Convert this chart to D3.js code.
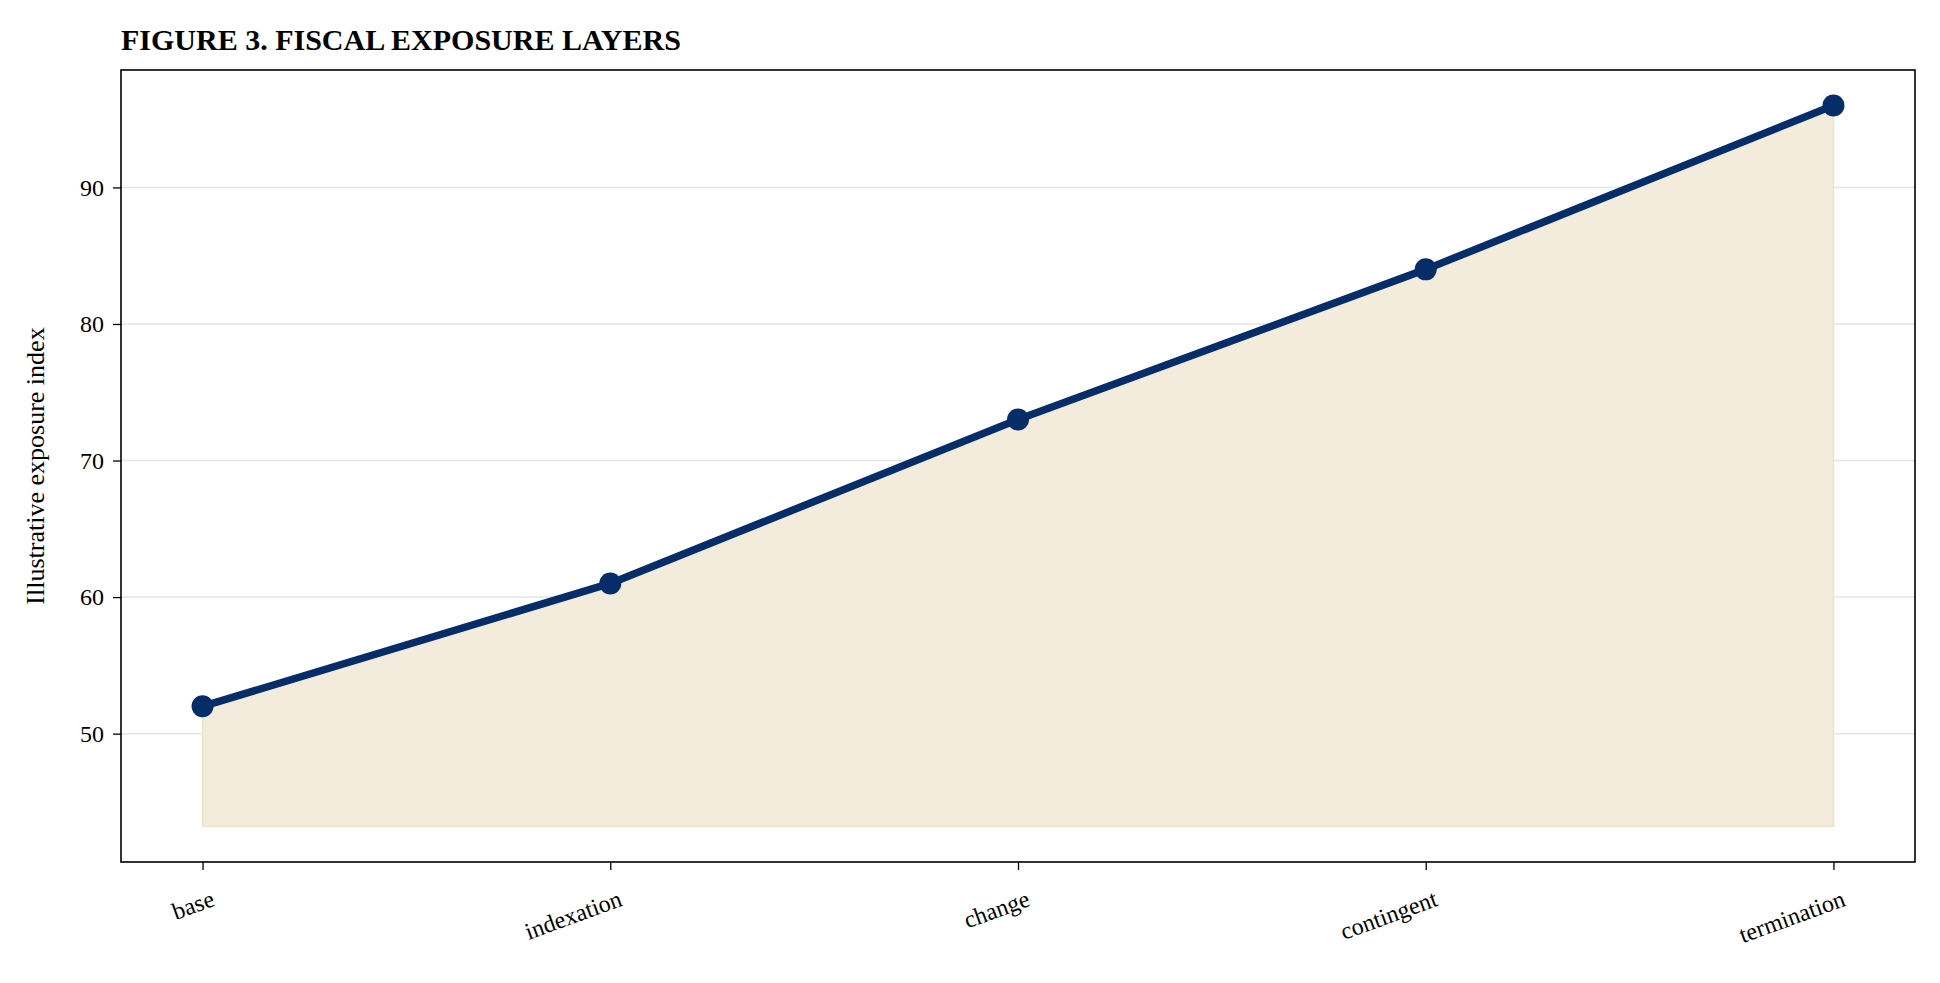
<!DOCTYPE html>
<html>
<head>
<meta charset="utf-8">
<script src="https://cdn.jsdelivr.net/npm/d3@7"></script>
<style>
  body { margin: 0; background: #fff; }
  text { font-family: "Liberation Serif", "Times New Roman", serif; }
</style>
</head>
<body>
<svg id="chart" width="1940" height="983"></svg>
<script>
const layers = ["base", "indexation", "change", "contingent", "termination"];
const exposure = [52, 61, 73, 84, 96];
const yTicks = [50, 60, 70, 80, 90];
const fillBase = 43.2;

const margin = { top: 70, right: 25, bottom: 121, left: 121 };
const width = 1940 - margin.left - margin.right;
const height = 983 - margin.top - margin.bottom;

const svg = d3.select("#chart");
const g = svg.append("g").attr("transform", `translate(${margin.left},${margin.top})`);

// matplotlib-style 5% margins
const pad = width * 0.05 / 1.1;
const x = d3.scalePoint().domain(layers).range([pad, width - pad]).padding(0);
const y = d3.scaleLinear().domain([40.6, 98.6]).range([height, 0]);

const data = layers.map((d, i) => ({ layer: d, value: exposure[i] }));

// grid
g.selectAll("line.grid").data(yTicks).enter().append("line")
  .attr("class", "grid")
  .attr("x1", 0).attr("x2", width)
  .attr("y1", d => y(d)).attr("y2", d => y(d))
  .attr("stroke", "#e6e6e6").attr("stroke-width", 1.5);

// area
g.append("path").datum(data)
  .attr("d", d3.area().x(d => x(d.layer)).y0(y(fillBase)).y1(d => y(d.value)))
  .attr("fill", "#f3ecdc").attr("stroke", "#efe3c6").attr("stroke-width", 1.5);

// line
g.append("path").datum(data)
  .attr("d", d3.line().x(d => x(d.layer)).y(d => y(d.value)))
  .attr("fill", "none").attr("stroke", "#062d67").attr("stroke-width", 7.5)
  .attr("stroke-linejoin", "round");

g.selectAll("circle").data(data).enter().append("circle")
  .attr("cx", d => x(d.layer)).attr("cy", d => y(d.value))
  .attr("r", 11).attr("fill", "#062d67");

// frame
g.append("rect").attr("width", width).attr("height", height)
  .attr("fill", "none").attr("stroke", "#000").attr("stroke-width", 1.6);

// y axis
const yAxis = g.append("g").call(d3.axisLeft(y).tickValues(yTicks).tickSize(8).tickPadding(9));
yAxis.select(".domain").remove();
yAxis.selectAll("line").attr("stroke", "#000").attr("stroke-width", 1.3);
yAxis.selectAll("text").attr("font-size", 24).attr("fill", "#000")
  .style("font-family", "'Liberation Serif', serif");

// x axis
const xAxis = g.append("g").attr("transform", `translate(0,${height})`)
  .call(d3.axisBottom(x).tickSize(8).tickPadding(8));
xAxis.select(".domain").remove();
xAxis.selectAll("line").attr("stroke", "#000").attr("stroke-width", 1.3);
xAxis.selectAll("text").attr("font-size", 24).attr("fill", "#000")
  .style("font-family", "'Liberation Serif', serif")
  .attr("text-anchor", "end")
  .attr("dy", "0.9em")
  .attr("transform", "translate(0,8) rotate(-20)");

// y label
svg.append("text")
  .attr("transform", `translate(44,${margin.top + height / 2}) rotate(-90)`)
  .attr("text-anchor", "middle").attr("font-size", 26)
  .text("Illustrative exposure index");

// title
svg.append("text").attr("x", margin.left).attr("y", 50)
  .attr("font-size", 30).attr("font-weight", "bold")
  .text("FIGURE 3. FISCAL EXPOSURE LAYERS");
</script>
</body>
</html>
